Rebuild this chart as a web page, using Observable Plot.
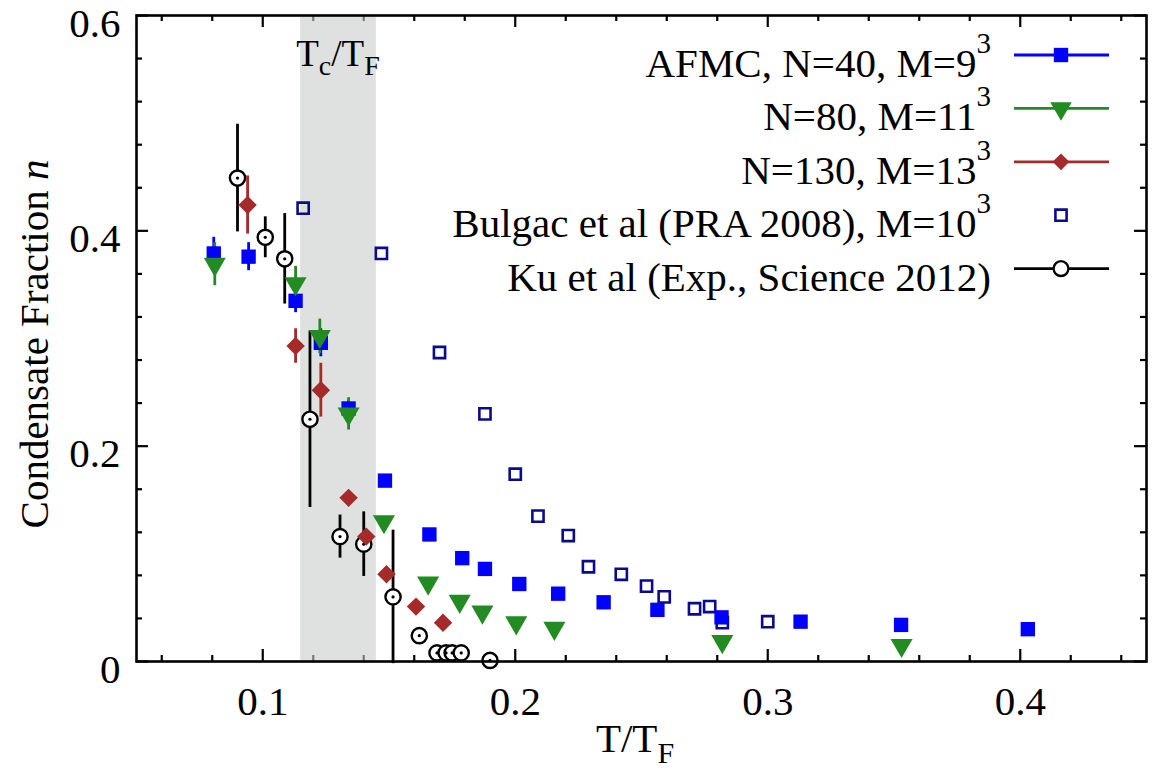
<!DOCTYPE html>
<html>
<head>
<meta charset="utf-8">
<script src="https://cdn.jsdelivr.net/npm/d3@7"></script>
<script src="https://cdn.jsdelivr.net/npm/@observablehq/plot@0.6"></script>
<style>
  html, body { margin: 0; padding: 0; background: white; }
  #chart { width: 1152px; height: 770px; }
</style>
</head>
<body>
<div id="chart"></div>
<script>
// ---- Data ----
// AFMC, N=40, M=9^3 (filled blue squares)
const afmc40T   = [0.0806, 0.0944, 0.113, 0.123, 0.134, 0.1484, 0.166, 0.179, 0.188, 0.2016, 0.217, 0.235, 0.2563, 0.2817, 0.313, 0.3528, 0.403];
const afmc40N   = [0.379, 0.376, 0.335, 0.296, 0.235, 0.168, 0.118, 0.096, 0.086, 0.072, 0.063, 0.055, 0.048, 0.041, 0.037, 0.034, 0.030];
const afmc40Err = [0.015, 0.013, 0.011, 0.013, 0.008, 0, 0, 0, 0, 0, 0, 0, 0, 0, 0, 0, 0];
// N=80, M=11^3 (green down triangles)
const afmc80T   = [0.081, 0.113, 0.1226, 0.134, 0.148, 0.1655, 0.178, 0.187, 0.2004, 0.2155, 0.282, 0.353];
const afmc80N   = [0.369, 0.351, 0.302, 0.230, 0.130, 0.073, 0.056, 0.046, 0.036, 0.031, 0.0186, 0.015];
const afmc80Err = [0.02, 0.016, 0.016, 0.015, 0, 0, 0, 0, 0, 0, 0, 0];
// N=130, M=13^3 (brown diamonds)
const afmc130T   = [0.094, 0.113, 0.123, 0.134, 0.141, 0.149, 0.1607, 0.1714];
const afmc130N   = [0.424, 0.293, 0.252, 0.152, 0.116, 0.081, 0.051, 0.036];
const afmc130Err = [0.027, 0.016, 0.025, 0, 0, 0, 0, 0];
// Bulgac et al (PRA 2008), M=10^3 (open navy squares)
const bulgacT = [0.116, 0.147, 0.170, 0.188, 0.200, 0.209, 0.221, 0.229, 0.242, 0.252, 0.259, 0.271, 0.277, 0.282, 0.300];
const bulgacN = [0.421, 0.379, 0.287, 0.230, 0.174, 0.135, 0.117, 0.088, 0.081, 0.070, 0.060, 0.049, 0.051, 0.036, 0.037];
// Ku et al (Exp., Science 2012) (open circles)
const kuT   = [0.090, 0.101, 0.1087, 0.1187, 0.1306, 0.140, 0.1516, 0.162, 0.169, 0.1726, 0.175, 0.1786, 0.190];
const kuN   = [0.449, 0.394, 0.374, 0.225, 0.116, 0.109, 0.060, 0.024, 0.008, 0.008, 0.008, 0.008, 0.001];
const kuErr = [0.05, 0.019, 0.042, 0.082, 0.02, 0.03, 0.062, 0, 0, 0, 0, 0, 0];
// Critical temperature band Tc/TF
const tcBand = [0.115, 0.145];

// Axis ticks
const xMajor = [0.1, 0.2, 0.3, 0.4];
const xMinor = [0.06, 0.08, 0.12, 0.14, 0.16, 0.18, 0.22, 0.24, 0.26, 0.28, 0.32, 0.34, 0.36, 0.38, 0.42, 0.44];
const yMajor = [0, 0.2, 0.4, 0.6];
const yMinor = [0.04, 0.08, 0.12, 0.16, 0.24, 0.28, 0.32, 0.36, 0.44, 0.48, 0.52, 0.56];

// Legend entries
const legendLabels = ["AFMC, N=40, M=9", "N=80, M=11", "N=130, M=13", "Bulgac et al (PRA 2008), M=10", "Ku et al (Exp., Science 2012)"];
const legendSup = ["3", "3", "3", "3", ""];

// ---- Build tables ----
const zip = (T, N, E) => T.map((t, i) => ({T: t, n: N[i], e: E ? E[i] : 0}));
const s40 = zip(afmc40T, afmc40N, afmc40Err);
const s80 = zip(afmc80T, afmc80N, afmc80Err);
const s130 = zip(afmc130T, afmc130N, afmc130Err);
const sB = zip(bulgacT, bulgacN);
const sKu = zip(kuT, kuN, kuErr);

const C40 = "#0000ff", C80 = "#228b22", C130 = "#a52a2a", CB = "#0b0b8c", CK = "#000000";

const W = 1152, H = 770;
const mL = 136, mR = 6, mT = 15, mB = 109;
const pW = W - mL - mR, pH = H - mT - mB;
const FONT = "'Liberation Serif', 'DejaVu Serif', serif";

const err = (data, stroke) => Plot.ruleX(data.filter(d => d.e > 0), {
  x: "T", y1: d => d.n - d.e, y2: d => d.n + d.e, stroke, strokeWidth: 2.8
});

const plot = Plot.plot({
  width: W, height: H,
  marginLeft: mL, marginRight: mR, marginTop: mT, marginBottom: mB,
  x: {domain: [0.05, 0.45], label: null},
  y: {domain: [0, 0.6], label: null},
  style: {fontFamily: FONT, background: "white", color: "black", overflow: "visible"},
  marks: [
    // inward ticks on all four sides
    Plot.tickX(xMajor, {x: d => d, insetTop: pH - 12, stroke: "black", strokeWidth: 2.2}),
    Plot.tickX(xMinor, {x: d => d, insetTop: pH - 6, stroke: "black", strokeWidth: 2.2}),
    Plot.tickX(xMajor, {x: d => d, insetBottom: pH - 12, stroke: "black", strokeWidth: 2.2}),
    Plot.tickX(xMinor, {x: d => d, insetBottom: pH - 6, stroke: "black", strokeWidth: 2.2}),
    Plot.tickY(yMajor, {y: d => d, insetRight: pW - 12, stroke: "black", strokeWidth: 2.2}),
    Plot.tickY(yMinor, {y: d => d, insetRight: pW - 6, stroke: "black", strokeWidth: 2.2}),
    Plot.tickY(yMajor, {y: d => d, insetLeft: pW - 12, stroke: "black", strokeWidth: 2.2}),
    Plot.tickY(yMinor, {y: d => d, insetLeft: pW - 6, stroke: "black", strokeWidth: 2.2}),
    // Tc band
    Plot.rect([tcBand], {x1: d => d[0], x2: d => d[1], y1: 0, y2: 0.6, fill: "#c9cdcb", fillOpacity: 0.6}),
    // tick labels
    Plot.axisX(xMajor, {tickSize: 0, tickPadding: 24, fontSize: 41, label: null, tickFormat: d => d.toFixed(1)}),
    Plot.axisY(yMajor, {tickSize: 0, tickPadding: 16, dy: 8, fontSize: 41, label: null, tickFormat: d => d === 0 ? "0" : d.toFixed(1)}),
    // Bulgac
    Plot.dot(sB, {x: "T", y: "n", symbol: "square", r: 6.3, stroke: CB, strokeWidth: 2.6, fill: "none"}),
    // error bars
    err(s40, C40), err(s80, C80), err(s130, C130), err(sKu, CK),
    // Ku circles
    Plot.dot(sKu, {x: "T", y: "n", r: 7.6, stroke: CK, strokeWidth: 2.4, fill: "white"}),
    Plot.dot(sKu, {x: "T", y: "n", r: 1.6, fill: CK}),
    // AFMC series
    Plot.dot(s40, {x: "T", y: "n", symbol: "square", r: 8.1, fill: C40}),
    Plot.dot(s80, {x: "T", y: "n", symbol: "triangle", rotate: 180, r: 8.2, fill: C80}),
    Plot.dot(s130, {x: "T", y: "n", symbol: "diamond2", r: 8.3, fill: C130}),
    Plot.frame({stroke: "black", strokeWidth: 2.6})
  ]
});

document.getElementById("chart").appendChild(plot);

// ---- Text annotations (layout) ----
const svg = d3.select(plot);
const xs = plot.scale("x");

// Tc/TF label over band
const tc = svg.append("text")
  .attr("x", xs.apply((tcBand[0] + tcBand[1]) / 2)).attr("y", 66)
  .attr("text-anchor", "middle").attr("font-family", FONT).attr("font-size", 37).attr("fill", "black");
tc.append("tspan").text("T");
tc.append("tspan").attr("font-size", 28).attr("dy", 9).text("c");
tc.append("tspan").attr("dy", -9).text("/T");
tc.append("tspan").attr("font-size", 28).attr("dy", 9).text("F");

// x axis title
const xt = svg.append("text")
  .attr("x", mL + pW / 2 - 6).attr("y", 752)
  .attr("text-anchor", "middle").attr("font-family", FONT).attr("font-size", 41).attr("fill", "black");
xt.append("tspan").text("T/T");
xt.append("tspan").attr("font-size", 30).attr("dy", 11).text("F");

// y axis title
const yt = svg.append("text")
  .attr("transform", `translate(48,${mT + pH / 2 + 6}) rotate(-90)`)
  .attr("text-anchor", "middle").attr("font-family", FONT).attr("font-size", 41).attr("fill", "black");
yt.append("tspan").text("Condensate Fraction ");
yt.append("tspan").attr("font-style", "italic").text("n");

// legend
const colors = [C40, C80, C130, CB, CK];
const lg = svg.append("g");
legendLabels.forEach((lab, i) => {
  const ly = 55 + i * 53.4;
  const t = lg.append("text").attr("x", 991).attr("y", ly + 22)
    .attr("text-anchor", "end").attr("font-family", FONT).attr("font-size", 41).attr("fill", "black");
  t.append("tspan").text(lab);
  if (legendSup[i]) t.append("tspan").attr("font-size", 29).attr("dy", -24).text(legendSup[i]);
  if (i !== 3) {
    lg.append("line").attr("x1", 1014).attr("x2", 1109).attr("y1", ly).attr("y2", ly)
      .attr("stroke", colors[i]).attr("stroke-width", 2.8);
  }
  const cx = 1061;
  const g = lg.append("g").attr("transform", `translate(${cx},${ly})`);
  if (i === 0) g.append("path").attr("d", d3.symbol(d3.symbolSquare, Math.PI * 8.1 * 8.1)()).attr("fill", C40);
  if (i === 1) g.append("path").attr("transform", "rotate(180)").attr("d", d3.symbol(d3.symbolTriangle, Math.PI * 8 * 8)()).attr("fill", C80);
  if (i === 2) g.append("path").attr("d", d3.symbol(d3.symbolDiamond2, Math.PI * 7.5 * 7.5)()).attr("fill", C130);
  if (i === 3) g.append("path").attr("d", d3.symbol(d3.symbolSquare, Math.PI * 6.3 * 6.3)()).attr("fill", "none").attr("stroke", CB).attr("stroke-width", 2.6);
  if (i === 4) g.append("circle").attr("r", 7.4).attr("fill", "white").attr("stroke", CK).attr("stroke-width", 2.3);
});
</script>
</body>
</html>
